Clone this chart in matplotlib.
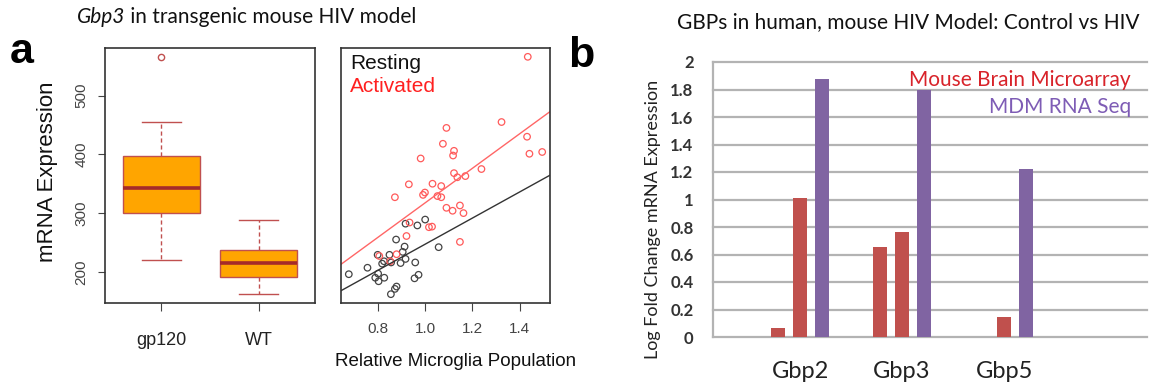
import matplotlib
matplotlib.use("Agg")
import matplotlib.pyplot as plt
import numpy as np

# panel a, left: boxplot stats of Gbp3 expression
box_groups = ["gp120", "WT"]
box_whislo = [220, 163]
box_q1 = [300, 192]
box_med = [342, 215]
box_q3 = [398, 237]
box_whishi = [455, 289]
box_fliers = [[565], []]

# panel a, right: expression vs relative microglia population
rest_x = [1.000, 0.967, 0.917, 0.877, 1.057, 0.913, 0.905, 0.799, 0.849, 0.826,
          0.818, 0.856, 0.917, 0.896, 0.958, 0.756, 0.677, 0.789, 0.803, 0.827,
          0.801, 0.972, 0.955, 0.879, 0.872, 0.855]
rest_y = [289, 279, 282, 255, 242, 243, 234, 229, 229, 218,
          214, 216, 222, 215, 216, 207, 196, 190, 184, 190,
          197, 195, 189, 175, 171, 162]
act_x = [1.434, 1.323, 1.090, 1.075, 1.122, 1.118, 1.431, 1.441, 1.495, 0.981,
         1.238, 1.122, 1.136, 1.170, 0.931, 1.031, 1.068, 0.999, 0.991, 0.872,
         1.052, 1.068, 1.090, 1.116, 1.147, 1.162, 1.147, 1.016, 1.029, 0.934,
         0.921, 0.879, 0.852, 0.806]
act_y = [566, 455, 445, 418, 406, 398, 430, 401, 404, 393,
         375, 368, 361, 363, 349, 350, 346, 335, 331, 327,
         329, 327, 309, 304, 313, 300, 251, 276, 277, 284,
         261, 230, 218, 227]
# fitted lines (slope, intercept)
rest_fit = (222.4, 24.7)
act_fit = (294.0, 23.5)

# panel b: log fold change
genes = ["Gbp2", "Gbp3", "Gbp5"]
micro_1 = [0.065, 0.657, np.nan]
micro_2 = [1.009, 0.761, 0.143]
rnaseq = [1.88, 1.796, 1.222]

W, H = 1150, 385
fig = plt.figure(figsize=(W / 100, H / 100), dpi=100)

def fx(px):
    return px / W

def fy(py):
    return 1 - py / H

R_FONT = "Liberation Sans"
C_FONT = "Lato"
frame = "#333333"
tick_c = "#444444"

# ---- boxplot
ax1 = fig.add_axes([fx(105), fy(303), fx(210), 255 / H])
stats = []
for i in range(len(box_groups)):
    stats.append(dict(whislo=box_whislo[i], q1=box_q1[i], med=box_med[i],
                      q3=box_q3[i], whishi=box_whishi[i], fliers=box_fliers[i],
                      label=box_groups[i]))
edge = "#C0504F"
ax1.bxp(stats, positions=[1, 2], widths=0.8, capwidths=0.4, patch_artist=True,
        boxprops=dict(facecolor="#FFA500", edgecolor=edge, lw=1.0),
        whiskerprops=dict(color=edge, lw=1.0, ls=(0, (3, 2))),
        capprops=dict(color=edge, lw=1.0),
        medianprops=dict(color="#A52A2A", lw=2.6),
        flierprops=dict(marker="o", mfc="none", mec=edge, ms=4.5, mew=1.0))
ax1.set_xlim(0.42, 2.58)
ax1.set_ylim(147, 581)
ax1.set_yticks([200, 300, 400, 500])
ax1.set_yticklabels(["200", "300", "400", "500"], rotation=90, va="center",
                    fontsize=11, color=tick_c, family=R_FONT)
ax1.set_xticks([1, 2])
ax1.set_xticklabels(box_groups, fontsize=13, color="#222222", family=R_FONT)
ax1.tick_params(axis="y", direction="out", length=5, color=tick_c, pad=7)
ax1.tick_params(axis="x", direction="out", length=6, color=tick_c, pad=15)
for s in ax1.spines.values():
    s.set_color(frame)
    s.set_linewidth(1.2)

# ---- scatter
ax2 = fig.add_axes([fx(341), fy(303), fx(209), 255 / H])
ax2.scatter(rest_x, rest_y, s=22, facecolors="none", edgecolors="#444444", linewidths=0.9)
ax2.scatter(act_x, act_y, s=22, facecolors="none", edgecolors="#FF5A5A", linewidths=0.9)
ax2.axline((0, rest_fit[1]), slope=rest_fit[0], color="#333333", lw=1.0)
ax2.axline((0, act_fit[1]), slope=act_fit[0], color="#FF6666", lw=1.0)
ax2.set_xlim(0.644, 1.528)
ax2.set_ylim(147, 581)
ax2.set_yticks([])
ax2.set_xticks([0.8, 1.0, 1.2, 1.4])
ax2.set_xticklabels(["0.8", "1.0", "1.2", "1.4"], fontsize=11, color=tick_c, family=R_FONT)
ax2.tick_params(axis="x", direction="out", length=6, color=tick_c, pad=8)
for s in ax2.spines.values():
    s.set_color(frame)
    s.set_linewidth(1.2)
ax2.text(0.043, 0.941, "Resting", transform=ax2.transAxes, fontsize=15,
         color="#111111", va="center", family=R_FONT)
ax2.text(0.043, 0.848, "Activated", transform=ax2.transAxes, fontsize=15,
         color="#FF2020", va="center", family=R_FONT)

fig.text(fx(48), fy(172), "mRNA Expression", rotation=90, fontsize=16,
         ha="center", va="center", family=R_FONT, color="#111111")
fig.text(fx(456), fy(362), "Relative Microglia Population", fontsize=13.5,
         ha="center", va="center", family=R_FONT, color="#111111")

t1 = fig.text(fx(77), fy(17), "Gbp3", fontsize=15, style="italic",
              family=C_FONT, va="center", color="#111111")
ax1.annotate(" in transgenic mouse HIV model", xy=(1, 0.5), xycoords=t1,
             va="center", fontsize=15, family=C_FONT, color="#111111",
             annotation_clip=False)

fig.text(fx(10), fy(63), "a", fontsize=31, weight="bold", family=R_FONT, va="baseline")
fig.text(fx(568), fy(67), "b", fontsize=31, weight="bold", family=R_FONT, va="baseline")

# ---- bar chart
ax3 = fig.add_axes([fx(713), fy(337), fx(434), 275 / H])
x = np.arange(len(genes))
bw = 0.137
off = 0.216
ax3.bar(x - off, micro_1, bw, color="#C0504D", zorder=3)
ax3.bar(x, micro_2, bw, color="#C0504D", zorder=3)
ax3.bar(x + off, rnaseq, bw, color="#8064A2", zorder=3)
ax3.set_xlim(-0.853, 3.40)
ax3.set_ylim(0, 2)
yt = np.round(np.arange(0, 2.01, 0.2), 1)
ax3.set_yticks(yt)
ax3.set_yticklabels(["0" if v == 0 else ("%g" % v) for v in yt], fontsize=12,
                    weight="bold", family=C_FONT, color="#333333")
for v in yt:
    ax3.axhline(v, color="#B3B3B3", lw=1.6, zorder=1, clip_on=False)
ax3.set_xticks(x)
ax3.set_xticklabels(genes, fontsize=17, family=C_FONT, color="#222222")
ax3.tick_params(axis="both", length=0)
ax3.tick_params(axis="y", pad=14)
ax3.tick_params(axis="x", pad=17)
for k in ["top", "right", "bottom"]:
    ax3.spines[k].set_visible(False)
ax3.spines["left"].set_color("#B3B3B3")
ax3.spines["left"].set_linewidth(1.6)
ax3.text(0.963, 0.9345, "Mouse Brain Microarray", transform=ax3.transAxes,
         ha="right", va="center", fontsize=15, family=C_FONT, color="#D8232A")
ax3.text(0.963, 0.836, "MDM RNA Seq", transform=ax3.transAxes,
         ha="right", va="center", fontsize=15, family=C_FONT, color="#7E5CB5")

fig.text(fx(653), fy(219), "Log Fold Change mRNA Expression", rotation=90,
         fontsize=13, ha="center", va="center", family=C_FONT, color="#222222")
fig.text(fx(677), fy(22), "GBPs in human, mouse HIV Model: Control vs HIV",
         fontsize=15, va="center", family=C_FONT, color="#111111")

fig.savefig("out.png", dpi=100)
